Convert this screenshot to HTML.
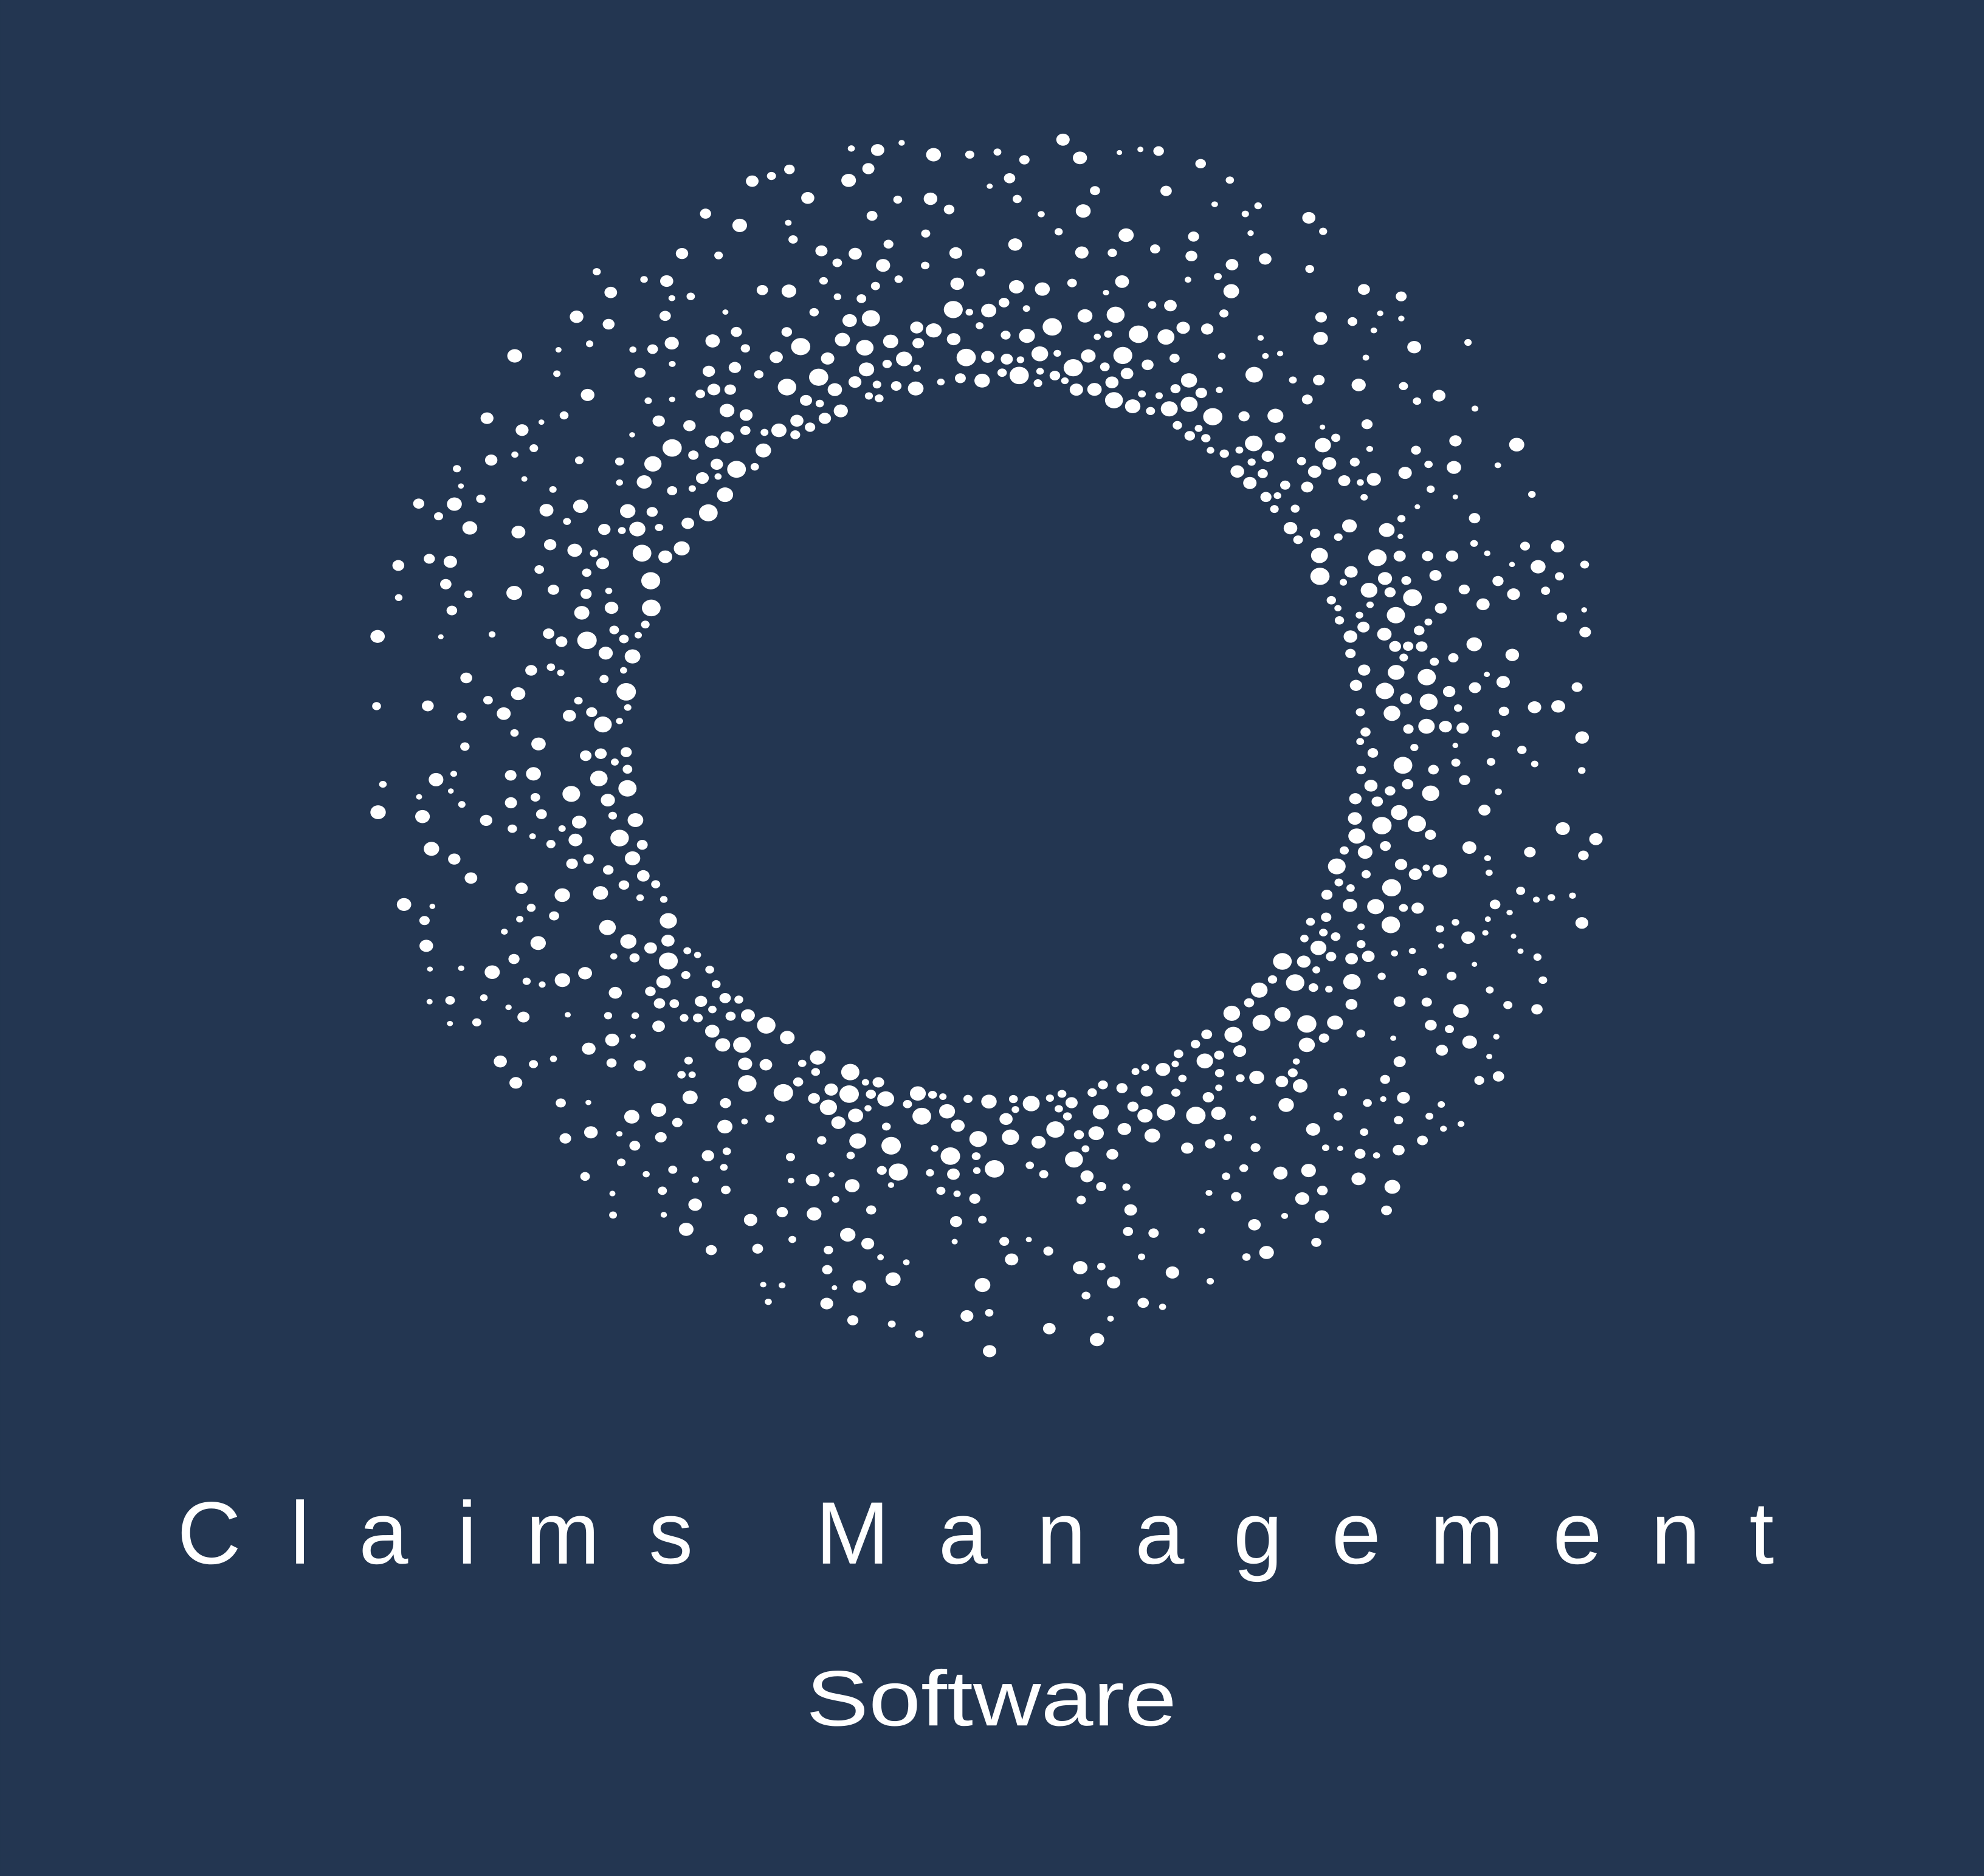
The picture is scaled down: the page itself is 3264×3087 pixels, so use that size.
<!DOCTYPE html>
<html><head><meta charset="utf-8"><style>
html,body{margin:0;padding:0;background:#233651;}
svg{display:block}
</style></head><body>
<svg id="s" width="3264" height="3087" viewBox="0 0 1568 1483" xmlns="http://www.w3.org/2000/svg">
<rect width="1568" height="1483" fill="#233651"/>
<g id="dots" fill="#ffffff"></g>
<text x="140" y="1236" font-family="Liberation Sans, sans-serif" font-size="70" fill="#ffffff" textLength="1262" lengthAdjust="spacing">Claims Management</text>
<text x="637" y="1364" font-family="Liberation Sans, sans-serif" font-size="62" fill="#ffffff" textLength="293" lengthAdjust="spacingAndGlyphs">Software</text>
</svg>
<script>
(function(){
var seed=12345;function r(){seed=(seed*1103515245+12345)%2147483648;return seed/2147483648;}
var g=document.getElementById('dots'),ns='http://www.w3.org/2000/svg',cx=785,cy=585,out=[];
for(var i=0;i<2500;i++){
 var a=r()*Math.PI*2;
 var t=Math.pow(r(),2.4);
 var rad=290+t*205;
 var x=cx+Math.cos(a)*rad*1.0, y=cy+Math.sin(a)*rad*0.98;
 var sz=(rad<360?2.8+r()*5:2.2+r()*4);
 var gap=(rad<360?1.5:6);
 var ok=true;
 for(var j=0;j<out.length;j++){var d=out[j];var dx=d[0]-x,dy=d[1]-y;var m=d[2]+sz+gap;if(dx*dx+dy*dy<m*m){ok=false;break;}}
 if(!ok)continue;out.push([x,y,sz]);
 var c=document.createElementNS(ns,'ellipse');
 c.setAttribute('cx',x.toFixed(1));c.setAttribute('cy',y.toFixed(1));
 c.setAttribute('rx',sz.toFixed(1));c.setAttribute('ry',(sz*0.9).toFixed(1));
 g.appendChild(c);
}
})();
</script>
</body></html>
